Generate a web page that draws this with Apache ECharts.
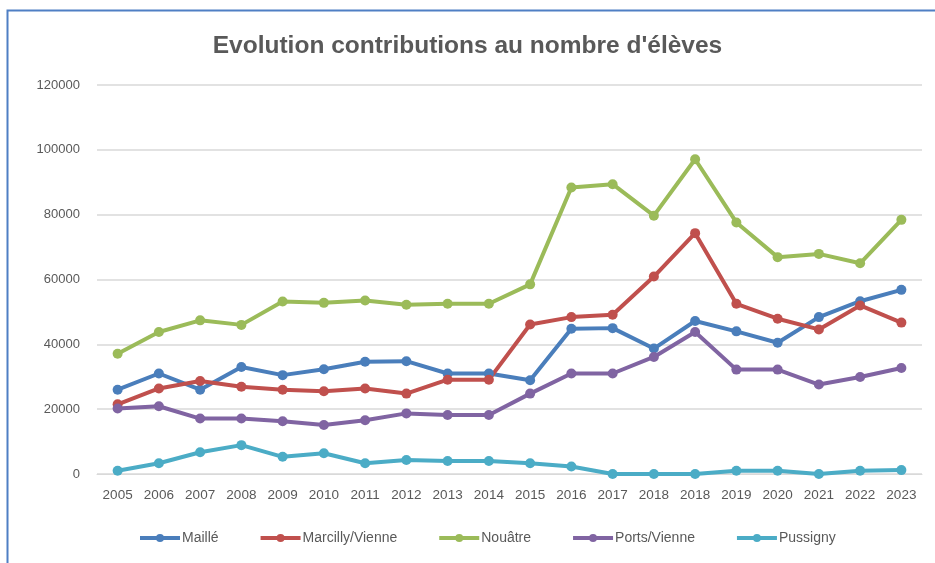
<!DOCTYPE html>
<html>
<head>
<meta charset="utf-8">
<title>Evolution contributions au nombre d'élèves</title>
<script src="https://cdn.jsdelivr.net/npm/echarts@6/dist/echarts.min.js"></script>
<style>
  html, body { margin: 0; padding: 0; background: #fff; }
  #chart { width: 935px; height: 563px; }
</style>
</head>
<body>
<div id="chart"></div>
<script>
// années (2018 apparaît deux fois dans l'original)
const years = ['2005', '2006', '2007', '2008', '2009', '2010', '2011', '2012', '2013', '2014',
  '2015', '2016', '2017', '2018', '2018', '2019', '2020', '2021', '2022', '2023']

const maille = [26000, 31000, 26000, 33000, 30500, 32300, 34600, 34800, 31000, 31000,
  28900, 44800, 45000, 38700, 47200, 44000, 40500, 48400, 53300, 56800]
const marcilly = [21500, 26400, 28700, 26900, 26000, 25500, 26400, 24800, 29100, 29100,
  46100, 48400, 49100, 60900, 74300, 52500, 47900, 44600, 52000, 46700]
const nouatre = [37100, 43800, 47400, 46000, 53200, 52800, 53500, 52200, 52500, 52500,
  58500, 88400, 89400, 79700, 97100, 77600, 66900, 67900, 65000, 78400]
const ports = [20200, 20900, 17100, 17100, 16300, 15100, 16600, 18700, 18200, 18200,
  24800, 31000, 31000, 36100, 43800, 32200, 32200, 27600, 29900, 32700]
const pussigny = [1000, 3300, 6700, 8900, 5300, 6400, 3300, 4300, 4000, 4000,
  3300, 2300, 0, 0, 0, 1000, 1000, 0, 1000, 1200]

const seriesNames = ['Maillé', 'Marcilly/Vienne', 'Nouâtre', 'Ports/Vienne', 'Pussigny']
const seriesData = [maille, marcilly, nouatre, ports, pussigny]
const seriesColors = ['#4a7ebb', '#c0504d', '#9bbb59', '#8064a2', '#4bacc6']

const textColor = '#595959'
const font = '"Liberation Sans", Arial, sans-serif'

const chart = echarts.init(document.getElementById('chart'))
chart.setOption({
  animation: false,
  textStyle: { fontFamily: font },
  /* cadre du graphique : seulement haut et gauche visibles */
  graphic: [
    {
      type: 'polyline',
      shape: { points: [[7.5, 570], [7.5, 10.5], [935, 10.5]] },
      style: { fill: 'none', stroke: '#4f7fc4', lineWidth: 2 },
      silent: true
    }
  ],
  title: {
    text: "Evolution contributions au nombre d'élèves",
    left: 'center',
    top: 29,
    textStyle: { fontFamily: font, fontSize: 24.5, fontWeight: 'bold', color: textColor }
  },
  legend: {
    bottom: 13,
    left: 133,
    itemWidth: 40,
    itemHeight: 10,
    itemGap: 40,
    lineStyle: { width: 4 },
    textStyle: { fontFamily: font, fontSize: 14, color: textColor, padding: [0, 0, 0, -3] },
    data: seriesNames
  },
  grid: { left: 97, right: 13, top: 85, bottom: 89 },
  xAxis: {
    type: 'category',
    data: years,
    boundaryGap: true,
    axisLine: { lineStyle: { color: '#d9d9d9' } },
    axisTick: { show: false },
    axisLabel: { color: textColor, fontSize: 13.5, margin: 14, interval: 0 }
  },
  yAxis: {
    type: 'value',
    min: 0,
    max: 120000,
    interval: 20000,
    axisLine: { show: false },
    axisTick: { show: false },
    axisLabel: { color: textColor, fontSize: 13, margin: 17, formatter: (v) => String(v) },
    splitLine: { lineStyle: { color: '#d9d9d9', width: 1.5 } }
  },
  series: seriesNames.map((name, i) => ({
    name: name,
    type: 'line',
    data: seriesData[i],
    symbol: 'circle',
    symbolSize: 10,
    color: seriesColors[i],
    lineStyle: { width: 4, color: seriesColors[i] },
    itemStyle: { color: seriesColors[i] }
  }))
})
</script>
</body>
</html>
